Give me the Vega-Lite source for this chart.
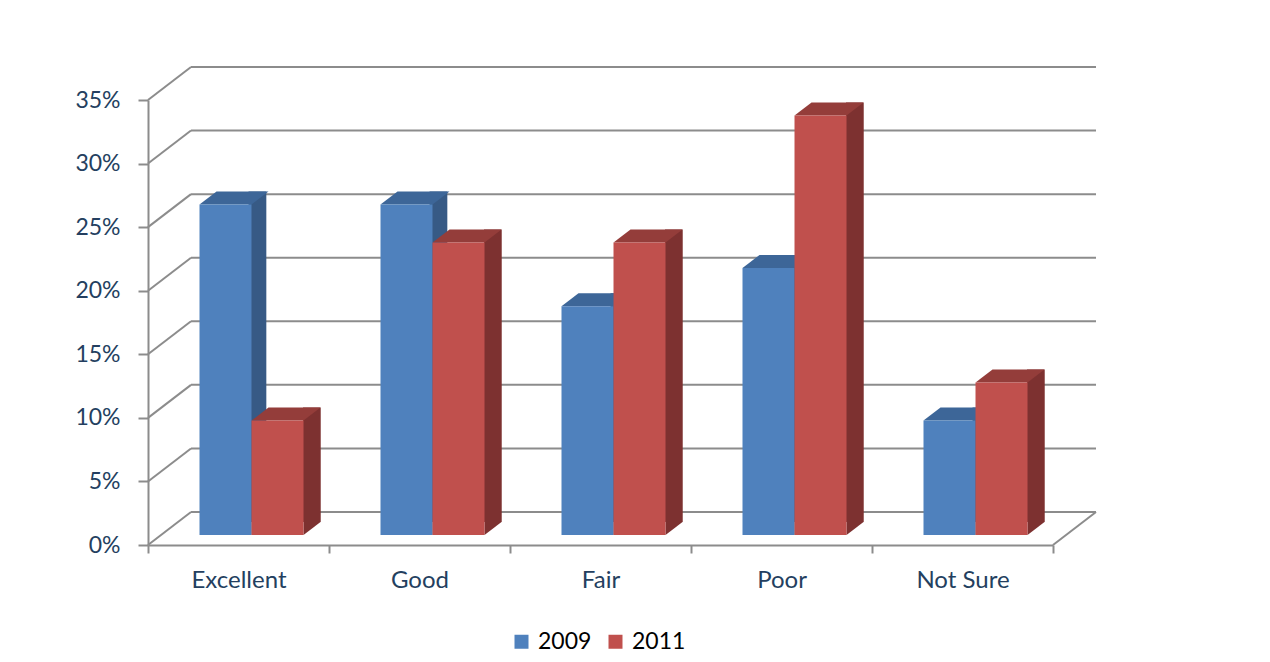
{
  "$schema": "https://vega.github.io/schema/vega-lite/v6.json",
  "width": 905,
  "height": 445,
  "autosize": {"type": "none"},
  "padding": {"left": 148, "top": 100, "right": 217, "bottom": 117},
  "background": "white",
  "config": {"view": {"stroke": null}, "font": "Lato"},
  "datasets": {
    "survey": [
      {"rating": "Excellent", "year": "2009", "share": 0.26},
      {"rating": "Excellent", "year": "2011", "share": 0.09},
      {"rating": "Good", "year": "2009", "share": 0.26},
      {"rating": "Good", "year": "2011", "share": 0.23},
      {"rating": "Fair", "year": "2009", "share": 0.18},
      {"rating": "Fair", "year": "2011", "share": 0.23},
      {"rating": "Poor", "year": "2009", "share": 0.21},
      {"rating": "Poor", "year": "2011", "share": 0.33},
      {"rating": "Not Sure", "year": "2009", "share": 0.09},
      {"rating": "Not Sure", "year": "2011", "share": 0.12}
    ],
    "ticks": [
      {"v": 0}, {"v": 0.05}, {"v": 0.1}, {"v": 0.15}, {"v": 0.2}, {"v": 0.25}, {"v": 0.3}, {"v": 0.35}
    ]
  },
  "resolve": {"scale": {"xOffset": "independent"}},
  "encoding": {
    "x": {
      "field": "rating",
      "type": "nominal",
      "scale": {"domain": ["Excellent", "Good", "Fair", "Poor", "Not Sure"], "paddingInner": 0, "paddingOuter": 0},
      "axis": {
        "title": null,
        "tickBand": "extent",
        "labelAngle": 0,
        "domainColor": "#8C8C8C",
        "domainWidth": 2,
        "tickColor": "#8C8C8C",
        "tickWidth": 2,
        "tickSize": 8,
        "labelPadding": 15,
        "labelFontSize": 24,
        "labelColor": "#243F60",
        "labelFont": "Lato"
      }
    },
    "y": {
      "field": "share",
      "type": "quantitative",
      "scale": {"domain": [0, 0.35], "nice": false},
      "axis": {
        "title": null,
        "format": ".0%",
        "values": [0, 0.05, 0.1, 0.15, 0.2, 0.25, 0.3, 0.35],
        "grid": false,
        "domainColor": "#8C8C8C",
        "domainWidth": 2,
        "tickColor": "#8C8C8C",
        "tickWidth": 2,
        "tickSize": 10,
        "labelPadding": 18,
        "labelFontSize": 23,
        "labelColor": "#243F60",
        "labelFont": "Lato"
      }
    }
  },
  "layer": [
    {
      "data": {"name": "ticks"},
      "mark": {"type": "rule", "color": "#8C8C8C", "strokeWidth": 2, "xOffset": 43, "x2Offset": 43, "yOffset": -33},
      "encoding": {
        "x": {"datum": "Excellent", "type": "nominal", "bandPosition": 0},
        "x2": {"datum": "Not Sure", "bandPosition": 1},
        "y": {"field": "v", "type": "quantitative"}
      }
    },
    {
      "data": {"name": "ticks"},
      "mark": {"type": "point", "shape": "M0,0L43,-33", "size": 4, "filled": false, "stroke": "#8C8C8C", "strokeWidth": 2, "opacity": 1},
      "encoding": {
        "x": {"datum": "Excellent", "type": "nominal", "bandPosition": 0},
        "y": {"field": "v", "type": "quantitative"}
      }
    },
    {
      "data": {"name": "ticks"},
      "transform": [{"filter": "datum.v === 0"}],
      "mark": {"type": "point", "shape": "M0,0L43,-33", "size": 4, "filled": false, "stroke": "#8C8C8C", "strokeWidth": 2, "opacity": 1},
      "encoding": {
        "x": {"datum": "Not Sure", "type": "nominal", "bandPosition": 1},
        "y": {"field": "v", "type": "quantitative"}
      }
    },
    {
      "data": {"name": "survey"},
      "mark": {"type": "bar", "yOffset": -23, "y2Offset": -23},
      "encoding": {
        "xOffset": {"field": "year", "type": "nominal", "scale": {"type": "band", "paddingInner": 0.6731, "paddingOuter": 1.0769, "align": 0.924}},
        "color": {"condition": {"test": "datum.year === '2009'", "value": "#375A85"}, "value": "#7D3130"}
      }
    },
    {
      "data": {"name": "survey"},
      "mark": {"type": "point", "shape": "M26,-13L26,0L43,-13Z", "size": 4, "filled": true, "strokeWidth": 0, "opacity": 1, "yOffset": -10},
      "encoding": {
        "xOffset": {"field": "year", "type": "nominal", "scale": {"type": "band", "paddingInner": 0, "paddingOuter": 0.74, "align": 0.669}},
        "y": {"datum": 0, "type": "quantitative"},
        "color": {"condition": {"test": "datum.year === '2009'", "value": "#375A85"}, "value": "#7D3130"}
      }
    },
    {
      "data": {"name": "survey"},
      "mark": {"type": "point", "shape": "M-26,0L-9,-13L43,-13L26,0Z", "size": 4, "filled": true, "strokeWidth": 0, "opacity": 1, "yOffset": -10},
      "encoding": {
        "xOffset": {"field": "year", "type": "nominal", "scale": {"type": "band", "paddingInner": 0, "paddingOuter": 0.74, "align": 0.669}},
        "color": {"condition": {"test": "datum.year === '2009'", "value": "#3D6698"}, "value": "#943D3A"}
      }
    },
    {
      "data": {"name": "survey"},
      "mark": {"type": "bar", "yOffset": -10, "y2Offset": -10},
      "encoding": {
        "xOffset": {"field": "year", "type": "nominal", "scale": {"type": "band", "paddingInner": 0, "paddingOuter": 0.74, "align": 0.669}},
        "color": {
          "field": "year",
          "type": "nominal",
          "scale": {"domain": ["2009", "2011"], "range": ["#4F81BD", "#C0504D"]},
          "legend": {
            "title": null,
            "orient": "none",
            "direction": "horizontal",
            "legendX": 362,
            "legendY": 530,
            "symbolType": "square",
            "symbolSize": 196,
            "symbolStrokeWidth": 0,
            "labelFontSize": 23,
            "labelFont": "Lato",
            "labelColor": "#000000",
            "labelOffset": 5,
            "columnPadding": 12
          }
        }
      }
    }
  ]
}
